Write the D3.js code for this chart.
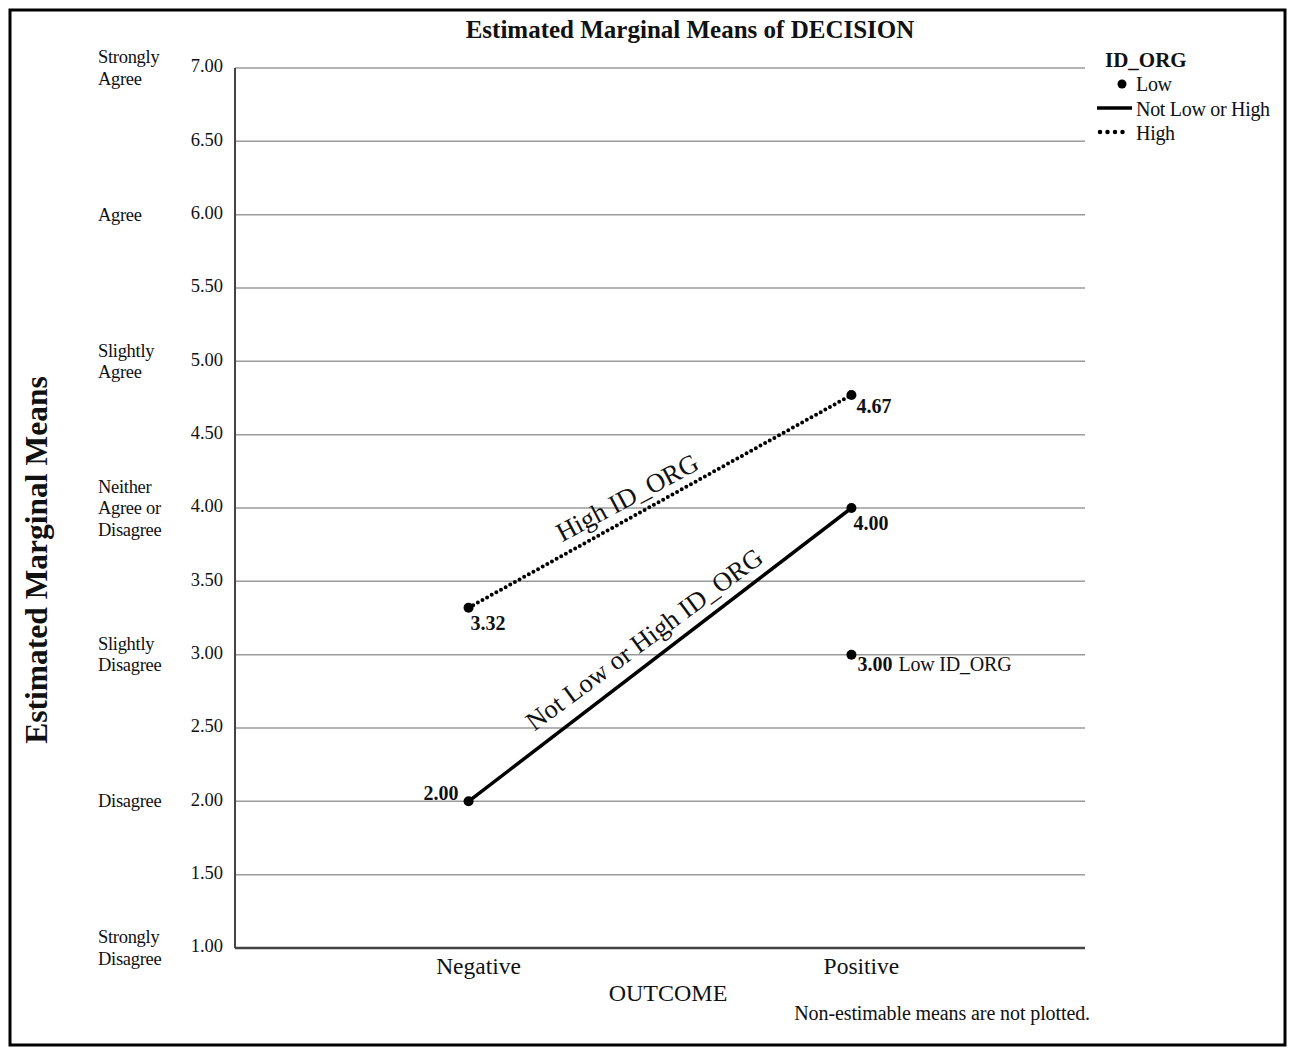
<!DOCTYPE html>
<html>
<head>
<meta charset="utf-8">
<script src="https://cdn.jsdelivr.net/npm/d3@7"></script>
<style>
  body { margin: 0; background: #fff; }
  svg { display: block; font-family: "Liberation Serif", "DejaVu Serif", serif; }
</style>
</head>
<body>
<div id="chart"></div>
<script>
//DATA
const outcomes = ["Negative", "Positive"];
const yTicks = [1.0, 1.5, 2.0, 2.5, 3.0, 3.5, 4.0, 4.5, 5.0, 5.5, 6.0, 6.5, 7.0];
const ratingValues = [7, 6, 5, 4, 3, 2, 1];
const ratingLabels = [
    ["Strongly", "Agree"],
    ["Agree"],
    ["Slightly", "Agree"],
    ["Neither", "Agree or", "Disagree"],
    ["Slightly", "Disagree"],
    ["Disagree"],
    ["Strongly", "Disagree"]
];
// plotted positions; printed labels kept apart
const highValues = [3.32, 4.77];
const highLabels = ["3.32", "4.67"];
const midValues = [2.00, 4.00];
const midLabels = ["2.00", "4.00"];
const lowValue = 3.00;   // Positive only
const lowLabel = "3.00";

//INIT
const width = 1295, height = 1049;
const svg = d3.select("#chart").append("svg")
    .attr("width", width)
    .attr("height", height);

svg.append("rect")
    .attr("x", 10).attr("y", 10)
    .attr("width", 1275).attr("height", 1035)
    .attr("fill", "none")
    .attr("stroke", "#000")
    .attr("stroke-width", 3);

const plotLeft = 235, plotRight = 1085, plotTop = 68, plotBottom = 948;

const x = d3.scalePoint()
    .domain(outcomes)
    .range([plotLeft, plotRight])
    .padding(0.61);

const y = d3.scaleLinear()
    .domain([1, 7])
    .range([plotBottom, plotTop]);

//GRID
svg.append("g")
    .selectAll("line")
    .data(yTicks.filter(d => d > 1))
    .enter()
    .append("line")
    .attr("x1", plotLeft).attr("x2", plotRight)
    .attr("y1", d => y(d)).attr("y2", d => y(d))
    .attr("stroke", "#9a9a9a")
    .attr("stroke-width", 1.5);

//AXES
svg.append("line")
    .attr("x1", plotLeft).attr("x2", plotLeft)
    .attr("y1", plotTop).attr("y2", plotBottom)
    .attr("stroke", "#444").attr("stroke-width", 2);
svg.append("line")
    .attr("x1", plotLeft).attr("x2", plotRight)
    .attr("y1", plotBottom).attr("y2", plotBottom)
    .attr("stroke", "#444").attr("stroke-width", 2.5);

svg.append("g")
    .selectAll("text")
    .data(yTicks)
    .enter()
    .append("text")
    .attr("x", 223)
    .attr("y", d => y(d))
    .attr("text-anchor", "end")
    .attr("dominant-baseline", "middle")
    .attr("font-size", "18.5px")
    .attr("fill", "#111")
    .text(d => d.toFixed(2));

// rating words at whole values
const rating = svg.append("g")
    .selectAll("text")
    .data(ratingValues)
    .enter()
    .append("text")
    .attr("font-size", "18.5px")
    .attr("letter-spacing", "-0.3px")
    .attr("fill", "#111");
rating.each(function (d, i) {
    const lines = ratingLabels[i];
    const t = d3.select(this);
    lines.forEach((ln, j) => {
        t.append("tspan")
            .attr("x", 98)
            .attr("y", y(d) + 6 + (j - (lines.length - 1) / 2) * 21.5)
            .text(ln);
    });
});

svg.append("g")
    .selectAll("text")
    .data(outcomes)
    .enter()
    .append("text")
    .attr("x", d => x(d) + 10)
    .attr("y", 974)
    .attr("text-anchor", "middle")
    .attr("font-size", "23.5px")
    .attr("fill", "#111")
    .text(d => d);

svg.append("text")
    .attr("x", 668).attr("y", 1001)
    .attr("text-anchor", "middle")
    .attr("font-size", "24px")
    .attr("fill", "#111")
    .text("OUTCOME");

svg.append("text")
    .attr("x", 1090).attr("y", 1020)
    .attr("text-anchor", "end")
    .attr("font-size", "20px")
    .attr("letter-spacing", "-0.1px")
    .attr("fill", "#111")
    .text("Non-estimable means are not plotted.");

svg.append("text")
    .attr("transform", "translate(47,560) rotate(-90)")
    .attr("text-anchor", "middle")
    .attr("font-size", "31.5px")
    .attr("font-weight", "bold")
    .attr("fill", "#111")
    .text("Estimated Marginal Means");

svg.append("text")
    .attr("x", 690).attr("y", 38)
    .attr("text-anchor", "middle")
    .attr("font-size", "25px")
    .attr("font-weight", "bold")
    .attr("fill", "#111")
    .text("Estimated Marginal Means of DECISION");

//LINES
const line = d3.line()
    .x((d, i) => x(outcomes[i]))
    .y(d => y(d));

svg.append("path")
    .attr("d", line(highValues))
    .attr("fill", "none")
    .attr("stroke", "#000")
    .attr("stroke-width", 4)
    .attr("stroke-linecap", "round")
    .attr("stroke-dasharray", "0 5.3");

svg.append("path")
    .attr("d", line(midValues))
    .attr("fill", "none")
    .attr("stroke", "#000")
    .attr("stroke-width", 3.5);

//POINTS
const pts = [];
highValues.forEach((v, i) => pts.push({ o: outcomes[i], v }));
midValues.forEach((v, i) => pts.push({ o: outcomes[i], v }));
pts.push({ o: "Positive", v: lowValue });

svg.append("g")
    .selectAll("circle")
    .data(pts)
    .enter()
    .append("circle")
    .attr("cx", d => x(d.o))
    .attr("cy", d => y(d.v))
    .attr("r", 5)
    .attr("fill", "#000");

//VALUE LABELS
const valueLabels = [
    { o: "Negative", v: highValues[0], t: highLabels[0], dx: 2, dy: 22, anchor: "start" },
    { o: "Positive", v: highValues[1], t: highLabels[1], dx: 5, dy: 18, anchor: "start" },
    { o: "Negative", v: midValues[0], t: midLabels[0], dx: -10, dy: -1, anchor: "end" },
    { o: "Positive", v: midValues[1], t: midLabels[1], dx: 2, dy: 22, anchor: "start" },
    { o: "Positive", v: lowValue, t: lowLabel, dx: 6, dy: 16, anchor: "start" }
];
svg.append("g")
    .selectAll("text")
    .data(valueLabels)
    .enter()
    .append("text")
    .attr("x", d => x(d.o) + d.dx)
    .attr("y", d => y(d.v) + d.dy)
    .attr("text-anchor", d => d.anchor)
    .attr("font-size", "20px")
    .attr("font-weight", "bold")
    .attr("fill", "#111")
    .text(d => d.t);

svg.append("text")
    .attr("x", x("Positive") + 47)
    .attr("y", y(lowValue) + 16)
    .attr("font-size", "20px")
    .attr("letter-spacing", "-0.2px")
    .attr("fill", "#111")
    .text("Low ID_ORG");

// labels along the lines, placed relative to the line they name
function along(vals, t) {
    const x0 = x(outcomes[0]), x1 = x(outcomes[1]);
    return [x0 + (x1 - x0) * t, y(vals[0]) + (y(vals[1]) - y(vals[0])) * t];
}
const hp = along(highValues, 0.42);
svg.append("text")
    .attr("transform", `translate(${hp[0] + 2},${hp[1] - 13}) rotate(-28)`)
    .attr("text-anchor", "middle")
    .attr("font-size", "26.5px")
    .attr("fill", "#111")
    .text("High ID_ORG");
const mp = along(midValues, 0.47);
svg.append("text")
    .attr("transform", `translate(${mp[0] + 1},${mp[1] - 17}) rotate(-36.5)`)
    .attr("text-anchor", "middle")
    .attr("font-size", "26.5px")
    .attr("fill", "#111")
    .text("Not Low or High ID_ORG");

//LEGEND
const legend = svg.append("g");
legend.append("text")
    .attr("x", 1105).attr("y", 67)
    .attr("font-size", "21px")
    .attr("font-weight", "bold")
    .attr("fill", "#111")
    .text("ID_ORG");
legend.append("circle")
    .attr("cx", 1122).attr("cy", 84).attr("r", 4.5)
    .attr("fill", "#000");
legend.append("line")
    .attr("x1", 1097).attr("x2", 1132)
    .attr("y1", 108).attr("y2", 108)
    .attr("stroke", "#000").attr("stroke-width", 3.5);
legend.append("line")
    .attr("x1", 1100).attr("x2", 1130)
    .attr("y1", 132).attr("y2", 132)
    .attr("stroke", "#000").attr("stroke-width", 4.5)
    .attr("stroke-linecap", "round")
    .attr("stroke-dasharray", "0 7.5");
legend.selectAll("text.item")
    .data(["Low", "Not Low or High", "High"])
    .enter()
    .append("text")
    .attr("class", "item")
    .attr("x", 1136)
    .attr("y", (d, i) => 91 + i * 24.5)
    .attr("font-size", "20px")
    .attr("letter-spacing", "-0.3px")
    .attr("fill", "#111")
    .text(d => d);
</script>
</body>
</html>
